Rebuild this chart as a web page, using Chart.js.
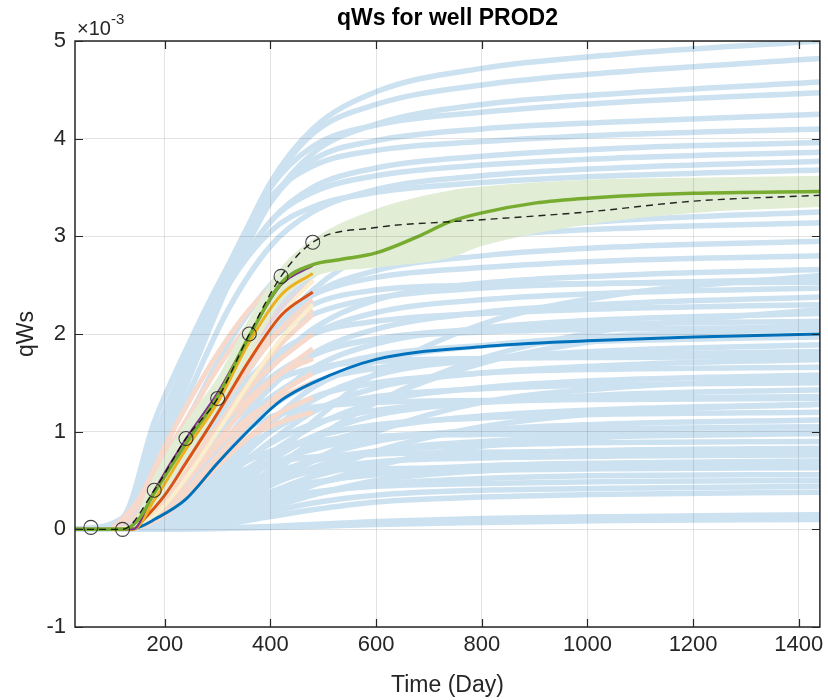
<!DOCTYPE html>
<html>
<head>
<meta charset="utf-8">
<script src="https://cdn.jsdelivr.net/npm/chart.js@4.4.0/dist/chart.umd.min.js"></script>
<style>
  html, body { margin: 0; padding: 0; background: #fff; }
</style>
</head>
<body>
<canvas id="chart" width="828" height="700"></canvas>
<script>
/* -----------------------
   Data (qWs in units of 1e-3)
------------------------*/
const xTicks = [200, 400, 600, 800, 1000, 1200, 1400];
const yTicks = [-1, 0, 1, 2, 3, 4, 5];

// prior ensemble, sampled on ensDays
const ensDays = [30, 120, 180, 250, 320, 400, 480, 600, 800, 1050, 1440];
const priorHigh = [
  [0, 0.06, 0.75, 1.7, 2.65, 3.55, 4.1, 4.48, 4.72, 4.86, 5.0],
  [0, 0.08, 0.85, 1.75, 2.6, 3.5, 4.05, 4.35, 4.55, 4.68, 4.82],
  [0, 0.05, 0.7, 1.6, 2.5, 3.35, 3.85, 4.15, 4.35, 4.46, 4.58],
  [0, 0.1, 0.95, 1.85, 2.7, 3.5, 3.92, 4.14, 4.27, 4.37, 4.47],
  [0, 0.07, 0.8, 1.75, 2.6, 3.35, 3.78, 3.98, 4.1, 4.17, 4.25],
  [0, 0.12, 1.1, 1.95, 2.7, 3.4, 3.72, 3.88, 3.97, 4.04, 4.1],
  [0, 0.06, 0.75, 1.65, 2.5, 3.15, 3.5, 3.7, 3.82, 3.9, 3.96],
  [0, 0.09, 0.9, 1.75, 2.5, 3.15, 3.45, 3.62, 3.73, 3.8, 3.86],
  [0, 0.04, 0.6, 1.45, 2.25, 2.9, 3.25, 3.48, 3.62, 3.7, 3.77],
  [0, 0.08, 0.85, 1.75, 2.5, 3.05, 3.3, 3.45, 3.55, 3.62, 3.68]
];
const priorLow = [
  [0, 0.02, 0.35, 0.95, 1.6, 2.3, 2.8, 3.1, 3.3, 3.42, 3.52],
  [0, 0.05, 0.5, 1.2, 1.9, 2.5, 2.85, 3.05, 3.2, 3.3, 3.38],
  [0, 0.01, 0.2, 0.7, 1.3, 1.95, 2.45, 2.85, 3.05, 3.16, 3.25],
  [0, 0.03, 0.4, 1.0, 1.6, 2.2, 2.6, 2.85, 3.0, 3.08, 3.14],
  [0, 0.02, 0.3, 0.85, 1.45, 2.0, 2.4, 2.65, 2.8, 2.89, 2.95],
  [0, 0.04, 0.45, 1.05, 1.6, 2.1, 2.4, 2.58, 2.68, 2.75, 2.8],
  [0, 0.01, 0.2, 0.6, 1.1, 1.65, 2.05, 2.35, 2.52, 2.6, 2.66],
  [0, 0.03, 0.35, 0.9, 1.45, 1.95, 2.2, 2.37, 2.47, 2.52, 2.56],
  [0, 0.02, 0.25, 0.7, 1.2, 1.7, 2.0, 2.22, 2.35, 2.42, 2.47],
  [0, 0.01, 0.15, 0.5, 0.95, 1.45, 1.8, 2.05, 2.22, 2.31, 2.38],
  [0, 0.03, 0.3, 0.8, 1.3, 1.75, 2.0, 2.13, 2.21, 2.26, 2.3],
  [0, 0.01, 0.12, 0.42, 0.85, 1.3, 1.65, 1.9, 2.06, 2.15, 2.21],
  [0, 0.02, 0.22, 0.62, 1.05, 1.5, 1.78, 1.95, 2.05, 2.1, 2.13],
  [0, 0.01, 0.1, 0.35, 0.7, 1.1, 1.45, 1.72, 1.88, 1.98, 2.05],
  [0, 0.02, 0.2, 0.55, 0.95, 1.35, 1.6, 1.78, 1.88, 1.93, 1.97],
  [0, 0.01, 0.08, 0.3, 0.62, 1.0, 1.32, 1.58, 1.74, 1.83, 1.89],
  [0, 0.02, 0.18, 0.5, 0.88, 1.25, 1.5, 1.65, 1.74, 1.79, 1.82],
  [0, 0.005, 0.06, 0.25, 0.55, 0.9, 1.2, 1.45, 1.6, 1.68, 1.74],
  [0, 0.01, 0.14, 0.42, 0.75, 1.1, 1.35, 1.5, 1.6, 1.64, 1.66],
  [0, 0.005, 0.05, 0.2, 0.45, 0.78, 1.05, 1.3, 1.45, 1.53, 1.58],
  [0, 0.01, 0.12, 0.38, 0.68, 1.0, 1.22, 1.36, 1.44, 1.48, 1.5],
  [0, 0.003, 0.04, 0.17, 0.4, 0.7, 0.95, 1.17, 1.3, 1.38, 1.43],
  [0, 0.01, 0.1, 0.3, 0.58, 0.88, 1.08, 1.22, 1.3, 1.34, 1.36],
  [0, 0.002, 0.03, 0.14, 0.34, 0.6, 0.84, 1.03, 1.16, 1.23, 1.28],
  [0, 0.01, 0.08, 0.26, 0.5, 0.76, 0.94, 1.07, 1.14, 1.18, 1.2],
  [0, 0.002, 0.025, 0.12, 0.3, 0.52, 0.72, 0.9, 1.02, 1.08, 1.12],
  [0, 0.01, 0.07, 0.22, 0.44, 0.66, 0.82, 0.94, 1.0, 1.03, 1.05],
  [0, 0.002, 0.02, 0.1, 0.25, 0.45, 0.63, 0.8, 0.9, 0.95, 0.98],
  [0, 0.005, 0.05, 0.18, 0.36, 0.56, 0.7, 0.8, 0.86, 0.89, 0.9],
  [0, 0.001, 0.015, 0.08, 0.2, 0.38, 0.54, 0.68, 0.77, 0.81, 0.83],
  [0, 0.005, 0.04, 0.15, 0.3, 0.47, 0.6, 0.69, 0.73, 0.75, 0.76],
  [0, 0.001, 0.01, 0.06, 0.16, 0.32, 0.46, 0.58, 0.65, 0.68, 0.7],
  [0, 0.003, 0.03, 0.11, 0.24, 0.38, 0.48, 0.56, 0.6, 0.62, 0.63],
  [0, 0.001, 0.01, 0.05, 0.13, 0.25, 0.36, 0.46, 0.52, 0.55, 0.56],
  [0, 0.002, 0.02, 0.08, 0.18, 0.3, 0.38, 0.44, 0.47, 0.49, 0.5],
  [0, 0.001, 0.005, 0.03, 0.09, 0.18, 0.27, 0.35, 0.4, 0.42, 0.44],
  [0, 0, 0.004, 0.02, 0.06, 0.13, 0.2, 0.28, 0.33, 0.36, 0.38],
  [0, 0, 0, 0.005, 0.015, 0.03, 0.05, 0.08, 0.11, 0.13, 0.15],
  [0, 0, 0, 0.003, 0.01, 0.02, 0.03, 0.05, 0.07, 0.09, 0.1]
];
// members that cross the others (late risers / early flatteners)
const priorCross = [
  [0, 0, 0.02, 0.1, 0.3, 0.6, 0.9, 1.3, 1.7, 1.95, 2.1],
  [0, 0.02, 0.3, 0.8, 1.2, 1.5, 1.65, 1.72, 1.75, 1.76, 1.77],
  [0, 0, 0.01, 0.06, 0.2, 0.45, 0.7, 1.0, 1.3, 1.45, 1.55],
  [0, 0.01, 0.2, 0.55, 0.9, 1.15, 1.25, 1.3, 1.32, 1.33, 1.34],
  [0, 0, 0.01, 0.05, 0.15, 0.35, 0.55, 0.8, 1.05, 1.2, 1.28],
  [0, 0.01, 0.1, 0.35, 0.6, 0.8, 0.9, 0.95, 0.97, 0.98, 0.99],
  [0, 0, 0.005, 0.04, 0.12, 0.28, 0.45, 0.65, 0.85, 0.95, 1.0],
  [0, 0.01, 0.12, 0.35, 0.55, 0.68, 0.74, 0.77, 0.79, 0.8, 0.8],
  [0, 0, 0.01, 0.08, 0.25, 0.55, 0.9, 1.3, 1.75, 2.05, 2.25],
  [0, 0.02, 0.3, 0.9, 1.5, 2.0, 2.3, 2.45, 2.5, 2.52, 2.53],
  [0, 0, 0.02, 0.12, 0.35, 0.7, 1.1, 1.6, 2.1, 2.4, 2.6],
  [0, 0.01, 0.2, 0.65, 1.1, 1.55, 1.8, 1.95, 2.02, 2.05, 2.07],
  [0, 0, 0.003, 0.03, 0.1, 0.22, 0.35, 0.5, 0.6, 0.65, 0.68],
  [0, 0.005, 0.06, 0.22, 0.42, 0.55, 0.6, 0.62, 0.63, 0.64, 0.64]
];

// history-matching runs, sampled on iterDays
const iterDays = [100, 150, 200, 250, 300, 360, 420, 480];
const iterSalmon = [
  [0, 0.15, 0.55, 1.0, 1.45, 1.95, 2.4, 2.7],
  [0, 0.1, 0.45, 0.9, 1.35, 1.85, 2.25, 2.55],
  [0, 0.08, 0.4, 0.8, 1.2, 1.65, 2.05, 2.35],
  [0, 0.12, 0.5, 0.95, 1.35, 1.75, 2.05, 2.25],
  [0, 0.05, 0.3, 0.65, 1.05, 1.5, 1.9, 2.2],
  [0, 0.06, 0.35, 0.7, 1.05, 1.45, 1.75, 2.0],
  [0, 0.04, 0.25, 0.55, 0.9, 1.3, 1.6, 1.85],
  [0, 0.08, 0.4, 0.75, 1.05, 1.35, 1.6, 1.75],
  [0, 0.03, 0.2, 0.45, 0.75, 1.1, 1.4, 1.6],
  [0, 0.05, 0.28, 0.55, 0.85, 1.15, 1.35, 1.5],
  [0, 0.02, 0.15, 0.38, 0.65, 0.95, 1.2, 1.35],
  [0, 0.04, 0.22, 0.45, 0.7, 0.95, 1.1, 1.2],
  [0, 0.3, 0.85, 1.35, 1.8, 2.25, 2.55, 2.7],
  [0, 0.25, 0.75, 1.2, 1.65, 2.1, 2.45, 2.65]
];
const iterYellow = [
  [0, 0.05, 0.35, 0.75, 1.2, 1.75, 2.2, 2.55],
  [0, 0.03, 0.25, 0.6, 1.0, 1.5, 1.95, 2.3]
];
const iterPurple = [
  [0, 0.1, 0.45, 0.9, 1.35, 1.9, 2.35, 2.65],
  [0, 0.07, 0.4, 0.85, 1.3, 1.8, 2.25, 2.55]
];

// posterior spread band
const bandDays  = [140, 180, 240, 300, 360, 420, 480, 600, 740, 800, 1000, 1200, 1440];
const bandUpper = [0.04, 0.55, 1.1, 1.56, 2.16, 2.68, 2.97, 3.28, 3.47, 3.51, 3.58, 3.6, 3.62];
const bandLower = [0, 0.22, 0.72, 1.18, 1.78, 2.32, 2.58, 2.68, 2.78, 2.9, 3.12, 3.24, 3.3];

// mean curves
const priorMeanDays = [30, 120, 150, 180, 240, 300, 360, 420, 480, 600, 800, 1000, 1200, 1440];
const priorMean     = [0, 0, 0.02, 0.1, 0.31, 0.68, 1.02, 1.32, 1.5, 1.74, 1.87, 1.93, 1.97, 2.0];
const postMeanDays  = [30, 120, 150, 180, 240, 300, 360, 420, 480, 530, 600, 680, 740, 800, 900, 1000, 1200, 1440];
const postMean      = [0, 0, 0.1, 0.37, 0.88, 1.36, 1.98, 2.52, 2.71, 2.76, 2.83, 3.0, 3.15, 3.24, 3.34, 3.39, 3.44, 3.46];
const orangeDays    = [30, 140, 160, 200, 240, 300, 360, 420, 480];
const orangeMean    = [0, 0, 0.1, 0.35, 0.68, 1.19, 1.73, 2.19, 2.43];
const yellowDays    = [30, 140, 180, 240, 300, 360, 420, 480];
const yellowMean    = [0, 0, 0.3, 0.82, 1.3, 1.92, 2.4, 2.62];
const purpleMean    = [0, 0, 0.4, 0.93, 1.4, 1.98, 2.5, 2.7];

// reference (truth) and observations
const truthDays = [30, 120, 180, 240, 300, 360, 420, 480, 600, 740, 800, 1000, 1200, 1440];
const truth     = [0, 0, 0.4, 0.93, 1.34, 2.0, 2.59, 2.94, 3.09, 3.15, 3.17, 3.25, 3.36, 3.42];
const obsDays   = [60, 120, 180, 240, 300, 360, 420, 480];
const obs       = [0.02, 0, 0.4, 0.93, 1.34, 2.0, 2.59, 2.94];

/* STYLE */
const FONT = "'Liberation Sans', Arial, Helvetica, sans-serif";
const AXIS = "#262626";

function pts(days, vals) {
  return days.map((d, i) => ({ x: d, y: vals[i] }));
}

function line(days, vals, color, width, order, extra) {
  return Object.assign({
    data: pts(days, vals),
    borderColor: color,
    backgroundColor: color,
    borderWidth: width,
    pointRadius: 0,
    fill: false,
    order: order
  }, extra || {});
}

const datasets = [];

/* observations + truth on top */
datasets.push({
  data: pts(obsDays, obs),
  showLine: false,
  pointRadius: 7,
  pointBorderWidth: 1.1,
  pointBorderColor: "rgba(30,30,30,0.85)",
  pointBackgroundColor: "rgba(0,0,0,0)",
  order: 0
});
datasets.push(line(truthDays, truth, "rgba(0,0,0,0.85)", 1.4, 1, { borderDash: [7, 5] }));

/* means */
datasets.push(line(postMeanDays, postMean, "#77AC30", 3.5, 2));
datasets.push(line(yellowDays, purpleMean, "#7E2F8E", 2, 2.5));
datasets.push(line(yellowDays, yellowMean, "#EDB120", 3, 3));
datasets.push(line(orangeDays, orangeMean, "#D95319", 3, 3.5));
datasets.push(line(priorMeanDays, priorMean, "#0072BD", 3, 4));

/* band */
datasets.push(line(bandDays, bandUpper, "rgb(226,237,214)", 0, 5, { fill: "+1" }));
datasets.push(line(bandDays, bandLower, "rgb(226,237,214)", 0, 5));

/* iteration runs */
iterYellow.forEach(r => datasets.push(line(iterDays, r, "rgb(250,238,204)", 4, 6)));
iterPurple.forEach(r => datasets.push(line(iterDays, r, "rgb(228,214,232)", 4, 6)));
iterSalmon.forEach(r => datasets.push(line(iterDays, r, "rgb(246,217,203)", 5, 7)));

/* prior ensemble */
priorHigh.concat(priorLow, priorCross).forEach(r => datasets.push(line(ensDays, r, "rgb(205,226,240)", 5.5, 8)));

/* MATLAB-like box, inner ticks, title and exponent */
const matlabAxes = {
  id: "matlabAxes",
  afterDraw(chart) {
    const { ctx, chartArea: a, scales: { x, y } } = chart;
    ctx.save();
    ctx.strokeStyle = AXIS;
    ctx.lineWidth = 1.5;
    ctx.strokeRect(a.left, a.top, a.right - a.left, a.bottom - a.top);
    ctx.lineWidth = 1.2;
    ctx.beginPath();
    xTicks.forEach(v => {
      const px = Math.round(x.getPixelForValue(v)) + 0.5;
      ctx.moveTo(px, a.bottom); ctx.lineTo(px, a.bottom - 8);
      ctx.moveTo(px, a.top); ctx.lineTo(px, a.top + 8);
    });
    yTicks.forEach(v => {
      const py = Math.round(y.getPixelForValue(v)) + 0.5;
      ctx.moveTo(a.left, py); ctx.lineTo(a.left + 8, py);
      ctx.moveTo(a.right, py); ctx.lineTo(a.right - 8, py);
    });
    ctx.stroke();

    // title
    ctx.fillStyle = "#000";
    ctx.font = "bold 23px " + FONT;
    ctx.textAlign = "center";
    ctx.textBaseline = "middle";
    ctx.fillText("qWs for well PROD2", (a.left + a.right) / 2, 19);

    // exponent
    ctx.fillStyle = AXIS;
    ctx.textAlign = "left";
    ctx.textBaseline = "alphabetic";
    ctx.font = "20px " + FONT;
    ctx.fillText("\u00d710", 77, 35);
    const w = ctx.measureText("\u00d710").width;
    ctx.font = "15px " + FONT;
    ctx.fillText("-3", 77 + w, 24);
    ctx.restore();
  }
};

new Chart(document.getElementById("chart"), {
  type: "line",
  data: { datasets: datasets },
  options: {
    responsive: false,
    animation: false,
    devicePixelRatio: 1,
    layout: { padding: { top: 41, right: 6, left: 0, bottom: 0 } },
    elements: {
      line: { cubicInterpolationMode: "monotone" },
      point: { radius: 0 }
    },
    plugins: {
      legend: { display: false },
      tooltip: { enabled: false },
      title: { display: false }
    },
    scales: {
      x: {
        type: "linear",
        min: 30,
        max: 1440,
        afterFit: s => { s.height = 73; s.paddingLeft = 0; s.paddingRight = 0; },
        afterBuildTicks: s => { s.ticks = xTicks.map(v => ({ value: v })); },
        grid: { color: "rgba(38,38,38,0.13)", drawTicks: false, z: 1 },
        border: { display: false },
        ticks: { font: { family: FONT, size: 22 }, color: AXIS, padding: 5, maxRotation: 0, callback: v => String(v) },
        title: { display: true, text: "Time (Day)", font: { family: FONT, size: 23 }, color: AXIS, padding: { top: 0, bottom: 1 } }
      },
      y: {
        type: "linear",
        min: -1,
        max: 5,
        afterFit: s => { s.width = 75; s.paddingTop = 0; s.paddingBottom = 0; },
        afterBuildTicks: s => { s.ticks = yTicks.map(v => ({ value: v })); },
        grid: { color: "rgba(38,38,38,0.13)", drawTicks: false, z: 1 },
        border: { display: false },
        ticks: { font: { family: FONT, size: 22 }, color: AXIS, padding: 9, callback: v => String(v) },
        title: { display: true, text: "qWs", font: { family: FONT, size: 23 }, color: AXIS, padding: { top: 13, bottom: 0 } }
      }
    }
  },
  plugins: [matlabAxes]
});
</script>
</body>
</html>
